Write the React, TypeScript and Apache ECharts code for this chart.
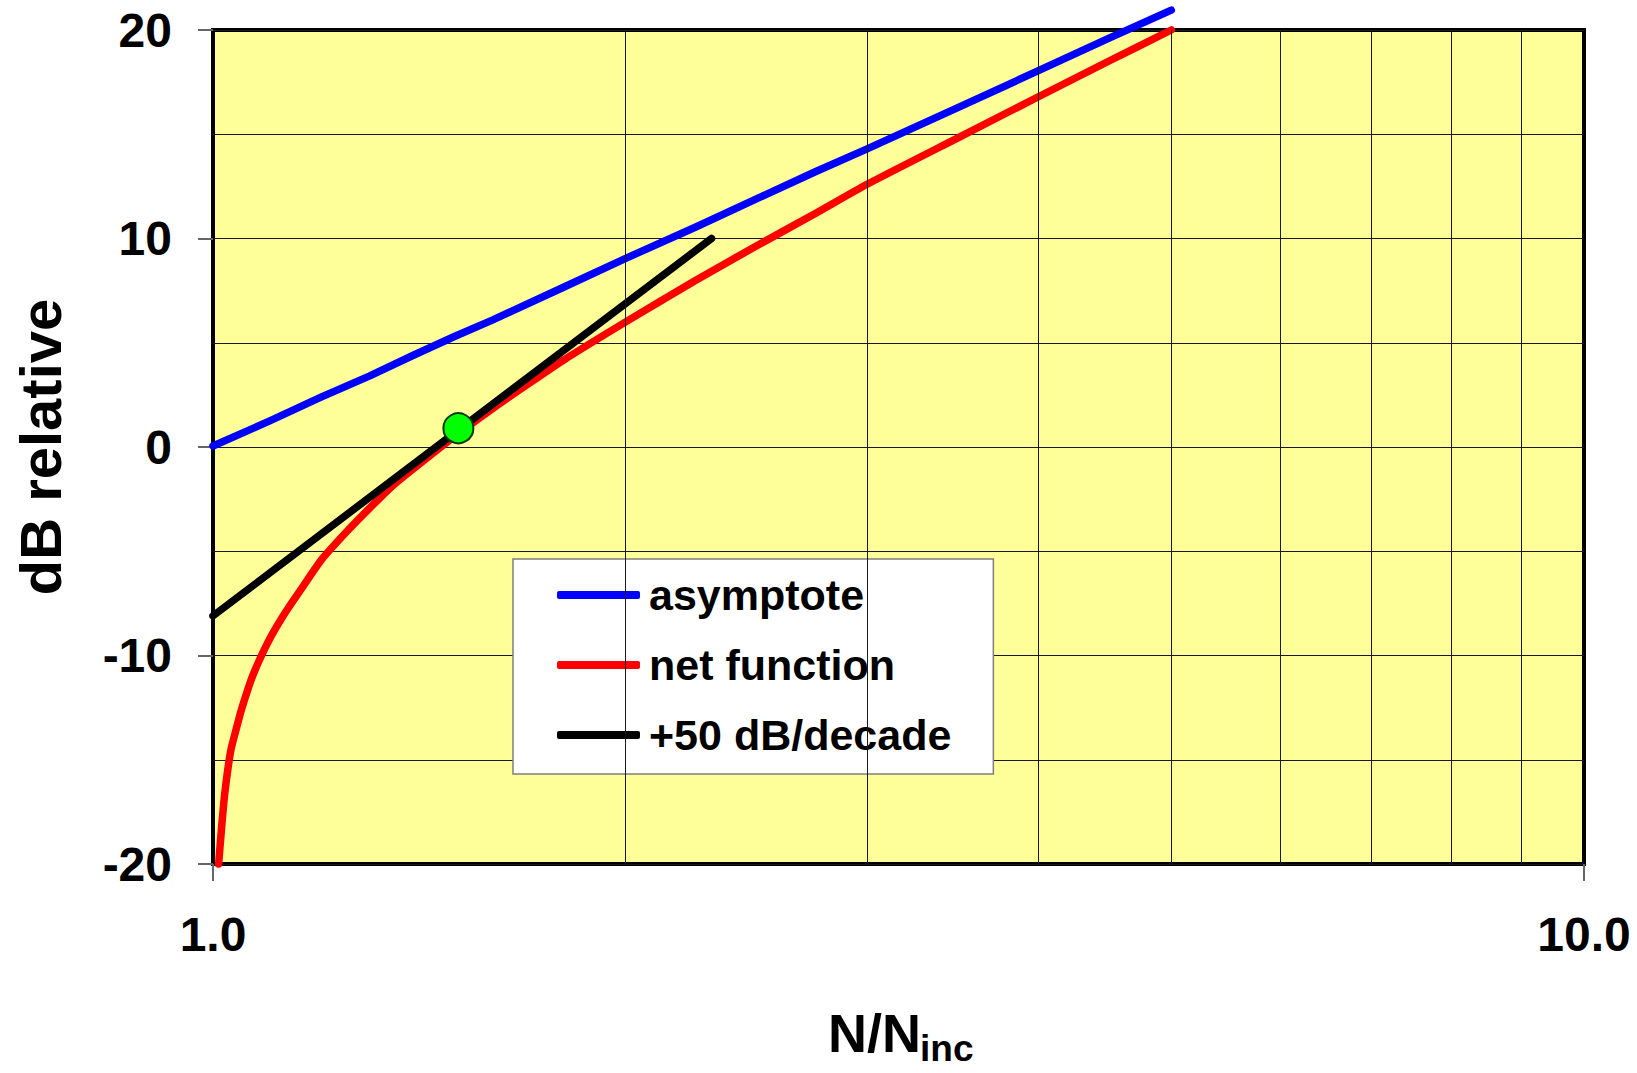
import React, { useEffect, useRef } from "react";
import * as echarts from "echarts";

// ---- data ----
const asymptoteN = [1.0, 1.1, 1.2, 1.3, 1.4, 1.5, 1.6, 1.8, 2.0, 2.25, 2.5, 2.75, 3.0, 3.5, 4.0, 4.5, 5.0];
const asymptoteDb = [0.05, 1.25, 2.4, 3.4, 4.4, 5.3, 6.1, 7.65, 9.05, 10.55, 11.95, 13.2, 14.3, 16.3, 18.05, 19.6, 20.95];

const netN = [1.0095, 1.015, 1.02, 1.03, 1.04, 1.05, 1.07, 1.1, 1.13, 1.16, 1.2, 1.25, 1.3, 1.35, 1.4, 1.5, 1.6, 1.7, 1.8, 2.0, 2.25, 2.5, 2.75, 3.0, 3.5, 4.0, 4.5, 5.0];
const netDb = [-20.0, -18.1, -16.6, -14.6, -13.5, -12.5, -10.9, -9.2, -7.9, -6.8, -5.4, -4.1, -2.95, -1.9, -1.05, 0.5, 1.85, 3.05, 4.15, 6.0, 8.0, 9.7, 11.2, 12.6, 14.85, 16.8, 18.5, 20.0];

const slopeN = [1.0, 2.31];
const slopeDb = [-8.1, 10.0];

const markerN = [1.51];
const markerDb = [0.9];

const minorGridN = [2, 3, 4, 5, 6, 7, 8, 9];
const yTickLabels = [-20, -10, 0, 10, 20];

const legendNames = ["asymptote", "net function", "+50 dB/decade"];

const FONT = "'Liberation Sans', Arial, Helvetica, sans-serif";

const zip = (xs: number[], ys: number[]) => xs.map((x, i) => [x, ys[i]]);

export default function App() {
  const ref = useRef<HTMLDivElement>(null);
  useEffect(() => {
    if (!ref.current) return;
    const chart = echarts.init(ref.current, undefined, { renderer: "svg" });
    const option: any = {
      animation: false,
      backgroundColor: "#ffffff",
      grid: {
        left: 213,
        top: 30,
        width: 1371,
        height: 834,
        show: true,
        backgroundColor: "#FFFF99",
        borderColor: "#000000",
        borderWidth: 4,
      },
      legend: {
        orient: "vertical",
        left: 513,
        top: 559,
        data: legendNames,
        icon: "roundRect",
        itemWidth: 83,
        itemHeight: 8,
        itemGap: 20,
        padding: [11, 42, 14, 44],
        backgroundColor: "#ffffff",
        borderColor: "#7f7f7f",
        borderWidth: 1.5,
        borderRadius: 0,
        selectedMode: false,
        textStyle: {
          fontFamily: FONT,
          fontWeight: "bold",
          fontSize: 43,
          color: "#000",
          lineHeight: 50,
          padding: [0, 0, 0, 4],
        },
      },
      xAxis: {
        type: "log",
        logBase: 10,
        min: 1,
        max: 10,
        axisLine: { show: false, onZero: false },
        axisTick: { show: true, length: 17, lineStyle: { color: "#666", width: 2 } },
        splitLine: { show: false },
        axisLabel: {
          fontFamily: FONT,
          fontWeight: "bold",
          fontSize: 48,
          color: "#000",
          margin: 46,
          formatter: (v: number) => Number(v).toFixed(1),
        },
      },
      yAxis: [
        {
          type: "value",
          min: -20,
          max: 20,
          interval: 5,
          axisLine: { show: false, onZero: false },
          axisTick: { show: false },
          axisLabel: { show: false },
          splitLine: { show: true, lineStyle: { color: "#1a1a1a", width: 1 } },
        },
        {
          type: "value",
          position: "left",
          min: -20,
          max: 20,
          interval: 10,
          axisLine: { show: false, onZero: false },
          axisTick: { show: true, length: 15, lineStyle: { color: "#666", width: 2 } },
          splitLine: { show: false },
          axisLabel: {
            fontFamily: FONT,
            fontWeight: "bold",
            fontSize: 48,
            color: "#000",
            margin: 41,
            formatter: (v: number) => (yTickLabels.includes(v) ? String(v) : ""),
          },
        },
      ],
      series: [
        {
          name: "grid-lines",
          type: "line",
          data: [[1, -20]],
          showSymbol: false,
          lineStyle: { width: 0 },
          silent: true,
          z: 1,
          markLine: {
            silent: true,
            symbol: ["none", "none"],
            label: { show: false },
            lineStyle: { color: "#1a1a1a", width: 1, type: "solid" },
            data: minorGridN.map((n) => ({ xAxis: n })),
          },
        },
        {
          name: "asymptote",
          type: "line",
          data: zip(asymptoteN, asymptoteDb),
          showSymbol: false,
          clip: false,
          color: "#0000FF",
          lineStyle: { color: "#0000FF", width: 7.5, cap: "round", join: "round" },
          z: 3,
        },
        {
          name: "net function",
          type: "line",
          data: zip(netN, netDb),
          showSymbol: false,
          clip: false,
          smooth: 0.2,
          color: "#FF0000",
          lineStyle: { color: "#FF0000", width: 7.5, cap: "round", join: "round" },
          z: 3,
        },
        {
          name: "+50 dB/decade",
          type: "line",
          data: zip(slopeN, slopeDb),
          showSymbol: false,
          clip: false,
          color: "#000000",
          lineStyle: { color: "#000000", width: 7.5, cap: "round", join: "round" },
          z: 4,
        },
        {
          name: "marker",
          type: "scatter",
          data: zip(markerN, markerDb),
          symbol: "circle",
          symbolSize: 30,
          itemStyle: { color: "#00FF00", borderColor: "#0a3a0a", borderWidth: 2, opacity: 1 },
          z: 5,
        },
      ],
      graphic: [
        {
          type: "text",
          x: 40,
          y: 447,
          rotation: Math.PI / 2,
          style: {
            text: "dB relative",
            fill: "#000",
            font: `bold 58px ${FONT}`,
            align: "center",
            verticalAlign: "middle",
            textAlign: "center",
            textVerticalAlign: "middle",
          },
        },
        {
          type: "text",
          x: 828,
          y: 1033,
          style: {
            text: "N/N",
            fill: "#000",
            font: `bold 54px ${FONT}`,
            lineHeight: 56,
            align: "left",
            verticalAlign: "middle",
            textAlign: "left",
            textVerticalAlign: "middle",
          },
        },
        {
          type: "text",
          x: 920,
          y: 1048,
          style: {
            text: "inc",
            fill: "#000",
            font: `bold 37px ${FONT}`,
            lineHeight: 30,
            align: "left",
            verticalAlign: "middle",
            textAlign: "left",
            textVerticalAlign: "middle",
          },
        },
      ],
    };
    chart.setOption(option);
    return () => chart.dispose();
  }, []);
  return (
    <div
      ref={ref}
      style={{ position: "absolute", left: 0, top: 0, width: 1637, height: 1073, background: "#fff" }}
    />
  );
}
